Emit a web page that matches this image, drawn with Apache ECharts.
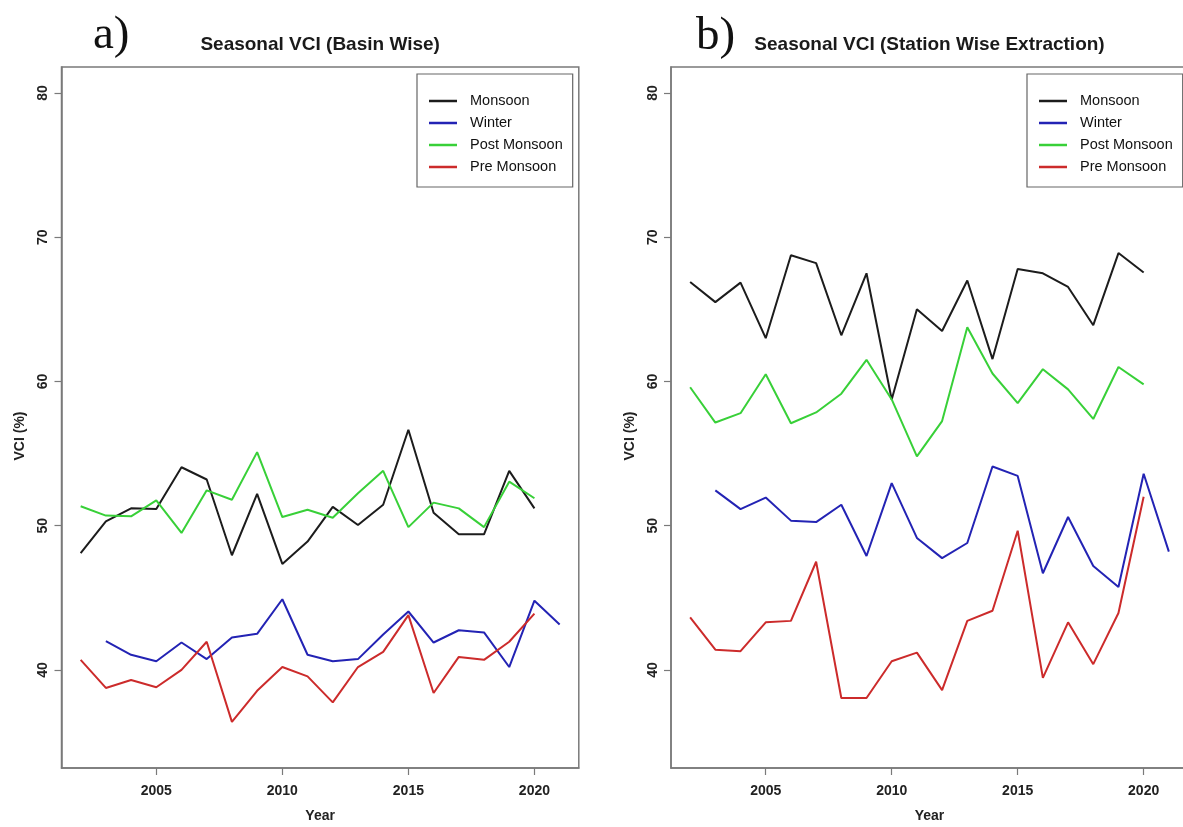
<!DOCTYPE html>
<html>
<head>
<meta charset="utf-8">
<script src="https://cdn.jsdelivr.net/npm/echarts@6/dist/echarts.min.js"></script>
<style>
html,body{margin:0;padding:0;background:#fff;}
#chart{width:1183px;height:827px;}
</style>
</head>
<body>
<div id="chart"></div>
<script>
// ---- data ----
const yearsMain = [2002,2003,2004,2005,2006,2007,2008,2009,2010,2011,2012,2013,2014,2015,2016,2017,2018,2019,2020];
const yearsWinter = [2003,2004,2005,2006,2007,2008,2009,2010,2011,2012,2013,2014,2015,2016,2017,2018,2019,2020,2021];

// (a) Basin wise
const basinMonsoon = [48.1,50.3,51.2,51.15,54.05,53.2,47.95,52.2,47.35,48.9,51.3,50.05,51.45,56.65,50.9,49.4,49.4,53.8,51.2];
const basinWinter = [42.0,41.05,40.6,41.9,40.75,42.25,42.5,44.9,41.05,40.6,40.75,42.45,44.05,41.9,42.75,42.6,40.2,44.8,43.15];
const basinPost = [51.35,50.7,50.65,51.75,49.5,52.45,51.8,55.1,50.6,51.1,50.55,52.25,53.8,49.9,51.6,51.2,49.9,53.05,51.9];
const basinPre = [40.7,38.75,39.3,38.8,40.0,41.95,36.4,38.55,40.2,39.55,37.75,40.2,41.25,43.8,38.4,40.9,40.7,41.95,43.9];

// (b) Station wise extraction
const stationMonsoon = [66.9,65.5,66.85,63.0,68.75,68.2,63.2,67.5,58.75,65.0,63.5,67.0,61.55,67.8,67.5,66.55,63.9,68.9,67.55];
const stationWinter = [52.45,51.15,51.95,50.35,50.25,51.45,47.9,52.95,49.15,47.75,48.8,54.1,53.45,46.7,50.6,47.2,45.75,53.6,48.2];
const stationPost = [59.6,57.15,57.8,60.5,57.1,57.85,59.15,61.5,58.75,54.8,57.25,63.75,60.55,58.5,60.85,59.45,57.4,61.0,59.8];
const stationPre = [43.65,41.4,41.3,43.3,43.4,47.5,38.05,38.05,40.6,41.2,38.6,43.4,44.1,49.65,39.45,43.3,40.4,43.95,52.0];

const seriesNames = ['Monsoon','Winter','Post Monsoon','Pre Monsoon'];
const seriesColors = ['#1c1c1c','#2323b4','#38d038','#cc2b2b'];
const xTicks = [2005,2010,2015,2020];
const yTicks = [40,50,60,70,80];
const panelTitles = ['Seasonal VCI (Basin Wise)','Seasonal VCI (Station Wise Extraction)'];
const panelLetters = ['a)','b)'];
const xTitle = 'Year';
const yTitle = 'VCI (%)';

// ---- chart ----
const chart = echarts.init(document.getElementById('chart'), null, {renderer:'canvas'});
const pair = (xs, ys) => xs.map((x,i)=>[x, ys[i]]);

const panelData = [
  [pair(yearsMain,basinMonsoon), pair(yearsWinter,basinWinter), pair(yearsMain,basinPost), pair(yearsMain,basinPre)],
  [pair(yearsMain,stationMonsoon), pair(yearsWinter,stationWinter), pair(yearsMain,stationPost), pair(yearsMain,stationPre)]
];

const grids = [
  {left:61.5, top:67, width:517.3, height:701},
  {left:671, top:67, width:517, height:701}
];
const axisGray = '#7a7a7a';
const font = '"Liberation Sans", Arial, sans-serif';

const xAxes = grids.map((g,i)=>({
  type:'value', gridIndex:i, min:2001.24, max:2021.76,
  name:xTitle, nameLocation:'middle', nameGap:41,
  nameTextStyle:{fontFamily:font, fontSize:14, fontWeight:'bold', color:'#222'},
  axisLine:{show:true, lineStyle:{color:axisGray, width:1.5}},
  axisTick:{show:true, length:7, customValues:xTicks, lineStyle:{color:axisGray, width:1.2}},
  axisLabel:{show:true, customValues:xTicks, margin:16, fontFamily:font, fontSize:14, fontWeight:'bold', color:'#222', formatter:(v)=>String(v)},
  splitLine:{show:false}
}));
const yAxes = grids.map((g,i)=>({
  type:'value', gridIndex:i, min:33.2, max:81.8,
  axisLine:{show:true, lineStyle:{color:axisGray, width:1.5}},
  axisTick:{show:true, length:7, customValues:yTicks, lineStyle:{color:axisGray, width:1.2}},
  axisLabel:{show:true, customValues:yTicks, rotate:90, margin:11, fontFamily:font, fontSize:14, fontWeight:'bold', color:'#222', formatter:(v)=>String(v)},
  splitLine:{show:false}
}));

const series = [];
panelData.forEach((pd, p)=>{
  pd.forEach((d, k)=>{
    series.push({
      type:'line', name:seriesNames[k], xAxisIndex:p, yAxisIndex:p,
      data:d, showSymbol:false, symbol:'none', animation:false,
      lineStyle:{color:seriesColors[k], width:2},
      itemStyle:{color:seriesColors[k]}
    });
  });
});

const legendBase = (left)=>({
  orient:'vertical', left:left, top:74,
  data:seriesNames, icon:'rect', itemWidth:28, itemHeight:2.5, itemGap:6,
  padding:[19,10,12,12], borderColor:'#666', borderWidth:1.2,
  textStyle:{fontFamily:font, fontSize:14.5, color:'#111', lineHeight:16, padding:[0,0,0,8]},
  selectedMode:false
});

const graphics = [];
grids.forEach((g,i)=>{
  const cx = g.left + g.width/2;
  graphics.push({type:'text', x:cx, y:45, style:{text:panelTitles[i], font:'bold 19px '+font, fill:'#1a1a1a', textAlign:'center', textVerticalAlign:'middle'}});
  graphics.push({type:'text', x:g.left-41, y:436, rotation:Math.PI/2, style:{text:yTitle, font:'bold 14px '+font, fill:'#222', textAlign:'center', textVerticalAlign:'middle'}});
});
graphics.push({type:'text', x:93, y:36, style:{text:panelLetters[0], font:'47px "Liberation Serif", "Times New Roman", serif', fill:'#111', textAlign:'left', textVerticalAlign:'middle'}});
graphics.push({type:'text', x:696, y:37, style:{text:panelLetters[1], font:'47px "Liberation Serif", "Times New Roman", serif', fill:'#111', textAlign:'left', textVerticalAlign:'middle'}});

chart.setOption({
  animation:false,
  backgroundColor:'#fff',
  grid:grids.map(g=>Object.assign({show:true, outerBoundsMode:'none', containLabel:false, borderColor:axisGray, borderWidth:1.5, backgroundColor:'transparent'}, g)),
  xAxis:xAxes, yAxis:yAxes,
  legend:[legendBase(417), legendBase(1027)],
  series:series,
  graphic:graphics
});
</script>
</body>
</html>
